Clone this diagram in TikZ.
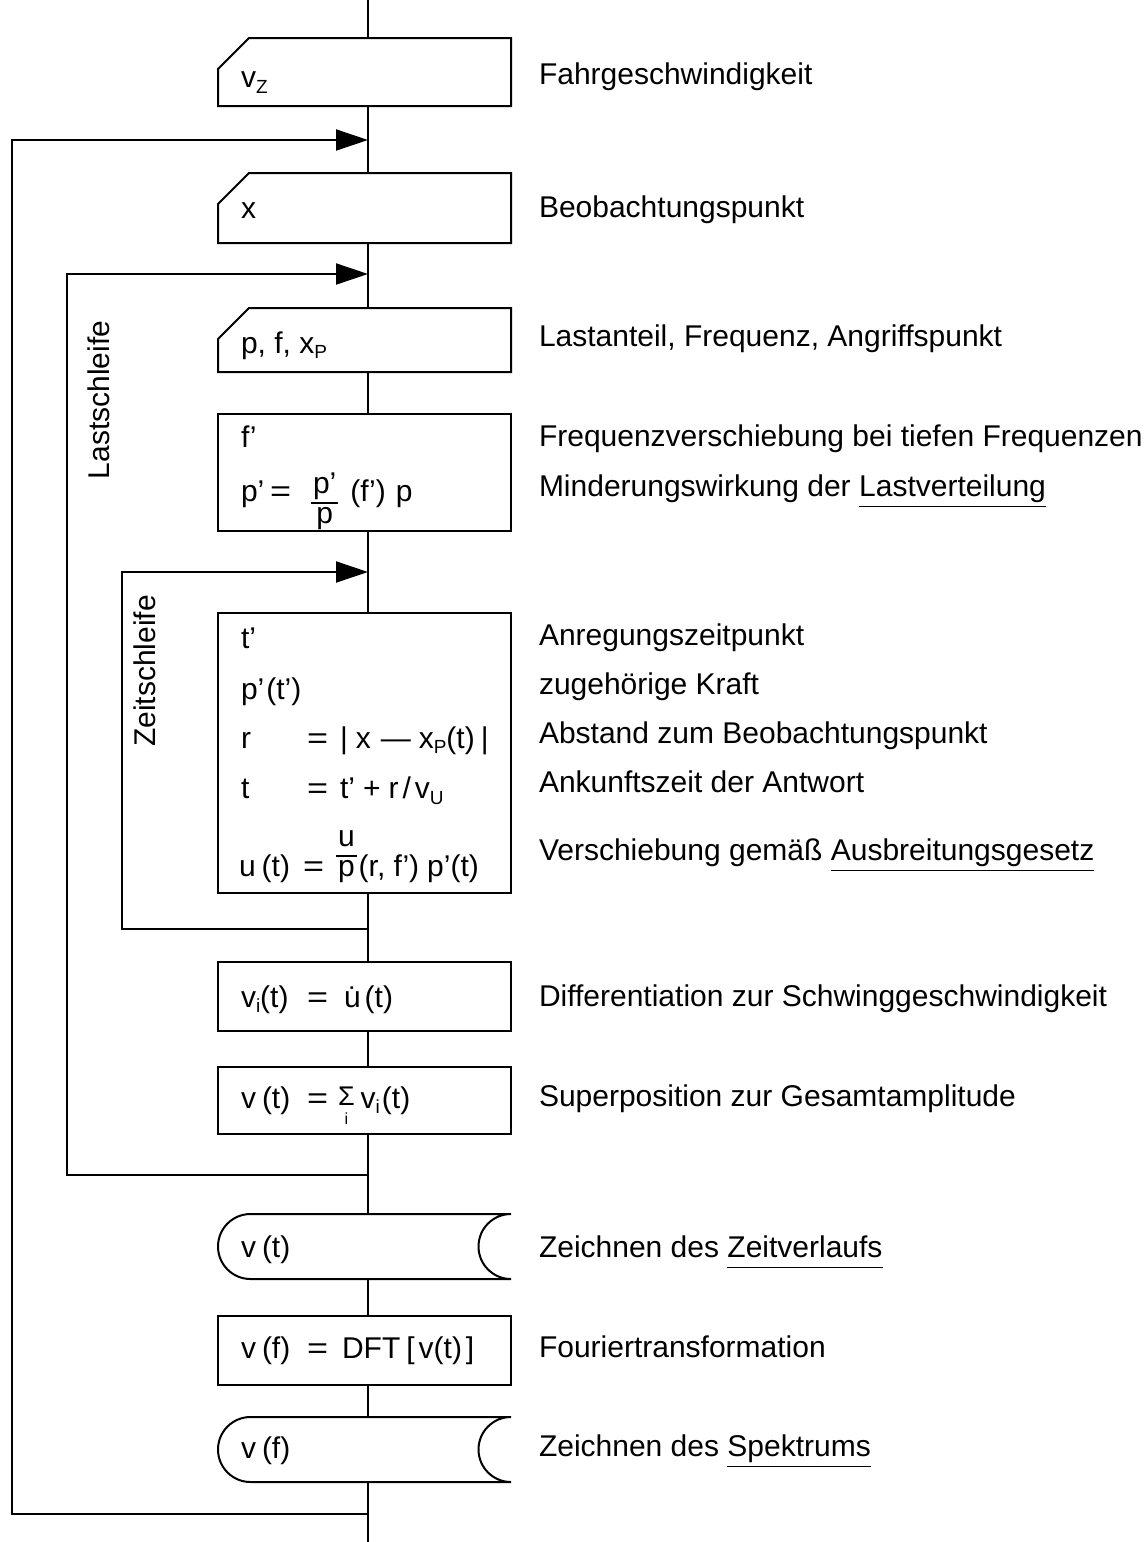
\documentclass[tikz,border=0pt]{standalone}
\usepackage{fontspec}
\setmainfont{Liberation Sans}
\usetikzlibrary{arrows.meta,calc}
\newcommand\fs{\fontsize{15}{18}\selectfont}
\newcommand\sbs[2][-2.5pt]{\raisebox{#1}{\fontsize{9.5}{10}\selectfont #2}}
% fraction: bar raised by #1 above baseline, numerator #2, denominator #3
\newcommand\frc[3]{\raisebox{#1}{%
  \setbox1=\hbox{#2}\setbox2=\hbox{#3}%
  \dimen0=\wd1 \ifdim\wd2>\dimen0 \dimen0=\wd2\fi
  \advance\dimen0 by 2pt
  \rlap{\raisebox{5pt}{\hbox to\dimen0{\hss\box1\hss}}}%
  \rlap{\raisebox{-10pt}{\hbox to\dimen0{\hss\box2\hss}}}%
  \rule[-0.35pt]{\dimen0}{0.7pt}}}
\newcommand\myul[1]{\setbox0\hbox{#1}\rlap{\rule[-5.5pt]{\wd0}{0.6pt}}\box0}
\newcommand\eq{\scalebox{1.2}[1]{=}}
\newcommand\sumi{\setbox1\hbox{\scalebox{1.5}{\fontsize{9}{10}\selectfont Σ}}%
  \rlap{\hbox to\wd1{\hss\raisebox{-8pt}{\fontsize{8}{9}\selectfont i}\hss}}\raisebox{1.5pt}{\box1}}
\newcommand\inbox[1]{\draw ($(#1.north west)+(31,0)$) -- (#1.north east) -- (#1.south east) -- (#1.south west) -- ($(#1.north west)+(0,31)$) -- cycle;}
\newcommand\dispbox[1]{\draw ($(#1.north west)+(32.5,0)$) -- (#1.north east) arc[start angle=90,end angle=270,radius=16.25pt] -- ($(#1.south west)+(32.5,0)$) arc[start angle=270,end angle=90,radius=16.25pt] -- cycle;}
\begin{document}
\begin{tikzpicture}[x=0.5pt,y=-0.5pt,line width=1pt,
  bx/.style={draw=none,minimum width=146.5pt,inner sep=0pt,outer sep=0pt},
  rbx/.style={bx,draw},
  txt/.style={anchor=base west,inner sep=0pt,font=\fs},
  loopl/.style={font=\fs,rotate=90,inner sep=0pt},
  arr/.style={-{Triangle[length=16pt,width=10.5pt]}}]
\useasboundingbox (0,0) rectangle (1146,1542);
% main line coordinates
\coordinate (top) at (368,0);
\coordinate (bot) at (368,1542);
\coordinate (j1) at (368,140);
\coordinate (j2) at (368,274);
\coordinate (j3) at (368,572);
\coordinate (j4) at (368,929);
\coordinate (j5) at (368,1175);
\coordinate (j6) at (368,1514);
\coordinate (c1) at (12,140);
\coordinate (c2) at (67,274);
\coordinate (c3) at (122,572);
% boxes
\node[bx,minimum height=34pt] (b1) at (364.5,72) {};
\node[bx,minimum height=35pt] (b2) at (364.5,208) {};
\node[bx,minimum height=32pt] (b3) at (364.5,340) {};
\node[rbx,minimum height=58.5pt] (b4) at (364.5,472.5) {};
\node[rbx,minimum height=140pt] (b5) at (364.5,753) {};
\node[rbx,minimum height=34.5pt] (b6) at (364.5,996.5) {};
\node[rbx,minimum height=33.5pt] (b7) at (364.5,1100.5) {};
\node[bx,minimum height=32.5pt] (b8) at (364.5,1246.5) {};
\node[rbx,minimum height=34.5pt] (b9) at (364.5,1350.5) {};
\node[bx,minimum height=32.5pt] (b10) at (364.5,1449.5) {};
\inbox{b1}
\inbox{b2}
\inbox{b3}
\dispbox{b8}
\dispbox{b10}
% connectors on main line
\draw (top) -- (b1.north -| top);
\draw (b1.south -| top) -- (b2.north -| top);
\draw (b2.south -| top) -- (b3.north -| top);
\draw (b3.south -| top) -- (b4.north -| top);
\draw (b4.south -| top) -- (b5.north -| top);
\draw (b5.south -| top) -- (b6.north -| top);
\draw (b6.south -| top) -- (b7.north -| top);
\draw (b7.south -| top) -- (b8.north -| top);
\draw (b8.south -| top) -- (b9.north -| top);
\draw (b9.south -| top) -- (b10.north -| top);
\draw (b10.south -| top) -- (bot);
% loops
\draw[arr] (j6) -| (c1) -- (j1);
\draw[arr] (j5) -| (c2) -- (j2);
\draw[arr] (j4) -| (c3) -- (j3);
\node[loopl] (ls) at (99,400) {Lastschleife};
\node[loopl] (zs) at (145,671) {Zeitschleife};
% box texts
\node[txt] (t1) at (240,87) {v\sbs[-3pt]{Z}};
\node[txt] (t2) at (240,218) {x};
\node[txt] (t3) at (240,353) {p, f, x\sbs{P}};
\node[txt] (t4a) at (240,447) {f’};
\node[txt] (t4b) at (240,501) {p’};
\node[txt] (t4c) at (269,501) {\eq\hspace{10pt}\frc{-1pt}{p’}{p}\hspace{6pt}(f’)\hspace{5pt}p};
\node[txt] (t5a) at (240,648) {t’};
\node[txt] (t5b) at (240,699) {p’\hspace{1pt}(t’)};
\node[txt] (t5c) at (240,748) {r};
\node[txt] (t5d) at (306,748) {\eq\hspace{6pt}|\hspace{4pt}x\hspace{5pt}—\hspace{4pt}x\sbs{P}(t)\hspace{3pt}|};
\node[txt] (t5e) at (240,798) {t};
\node[txt] (t5f) at (306,798) {\eq\hspace{6pt}t’\hspace{4pt}+\hspace{4pt}r\hspace{2pt}/\hspace{2pt}v\sbs[-3pt]{U}};
\node[txt] (t5g) at (238,876) {u\hspace{3pt}(t)};
\node[txt] (t5h) at (302,876) {\eq\hspace{6pt}\frc{10pt}{u}{p}\hspace{1pt}(r, f’)\hspace{4pt}p’(t)};
\node[txt] (t6a) at (240,1007) {v\sbs{i}(t)};
\node[txt] (t6b) at (306,1007) {\eq\hspace{8pt}\.{u}\hspace{2pt}(t)};
\node[txt] (t7a) at (240,1108) {v\hspace{3pt}(t)};
\node[txt] (t7b) at (306,1108) {\eq\hspace{5pt}\sumi\hspace{3pt}v\sbs{i}\hspace{1pt}(t)};
\node[txt] (t8) at (240,1257) {v\hspace{3pt}(t)};
\node[txt] (t9a) at (240,1358) {v\hspace{3pt}(f)};
\node[txt] (t9b) at (306,1358) {\eq\hspace{7pt}DFT\hspace{3pt}[\hspace{2pt}v(t)\hspace{2pt}]};
\node[txt] (t10) at (240,1458) {v\hspace{3pt}(f)};
% labels
\node[txt] (l1) at (538,84) {Fahrgeschwindigkeit};
\node[txt] (l2) at (538,217) {Beobachtungspunkt};
\node[txt] (l3) at (538,346) {Lastanteil, Frequenz, Angriffspunkt};
\node[txt] (l4a) at (538,446) {Frequenzverschiebung bei tiefen Frequenzen};
\node[txt] (l4b) at (538,496) {Minderungswirkung der \myul{Lastverteilung}};
\node[txt] (l5a) at (538,645) {Anregungszeitpunkt};
\node[txt] (l5b) at (538,694) {zugehörige Kraft};
\node[txt] (l5c) at (538,743) {Abstand zum Beobachtungspunkt};
\node[txt] (l5d) at (538,792) {Ankunftszeit der Antwort};
\node[txt] (l5e) at (538,860) {Verschiebung gemäß \myul{Ausbreitungsgesetz}};
\node[txt] (l6) at (538,1006) {Differentiation zur Schwinggeschwindigkeit};
\node[txt] (l7) at (538,1106) {Superposition zur Gesamtamplitude};
\node[txt] (l8) at (538,1257) {Zeichnen des \myul{Zeitverlaufs}};
\node[txt] (l9) at (538,1357) {Fouriertransformation};
\node[txt] (l10) at (538,1456) {Zeichnen des \myul{Spektrums}};
\end{tikzpicture}
\end{document}
